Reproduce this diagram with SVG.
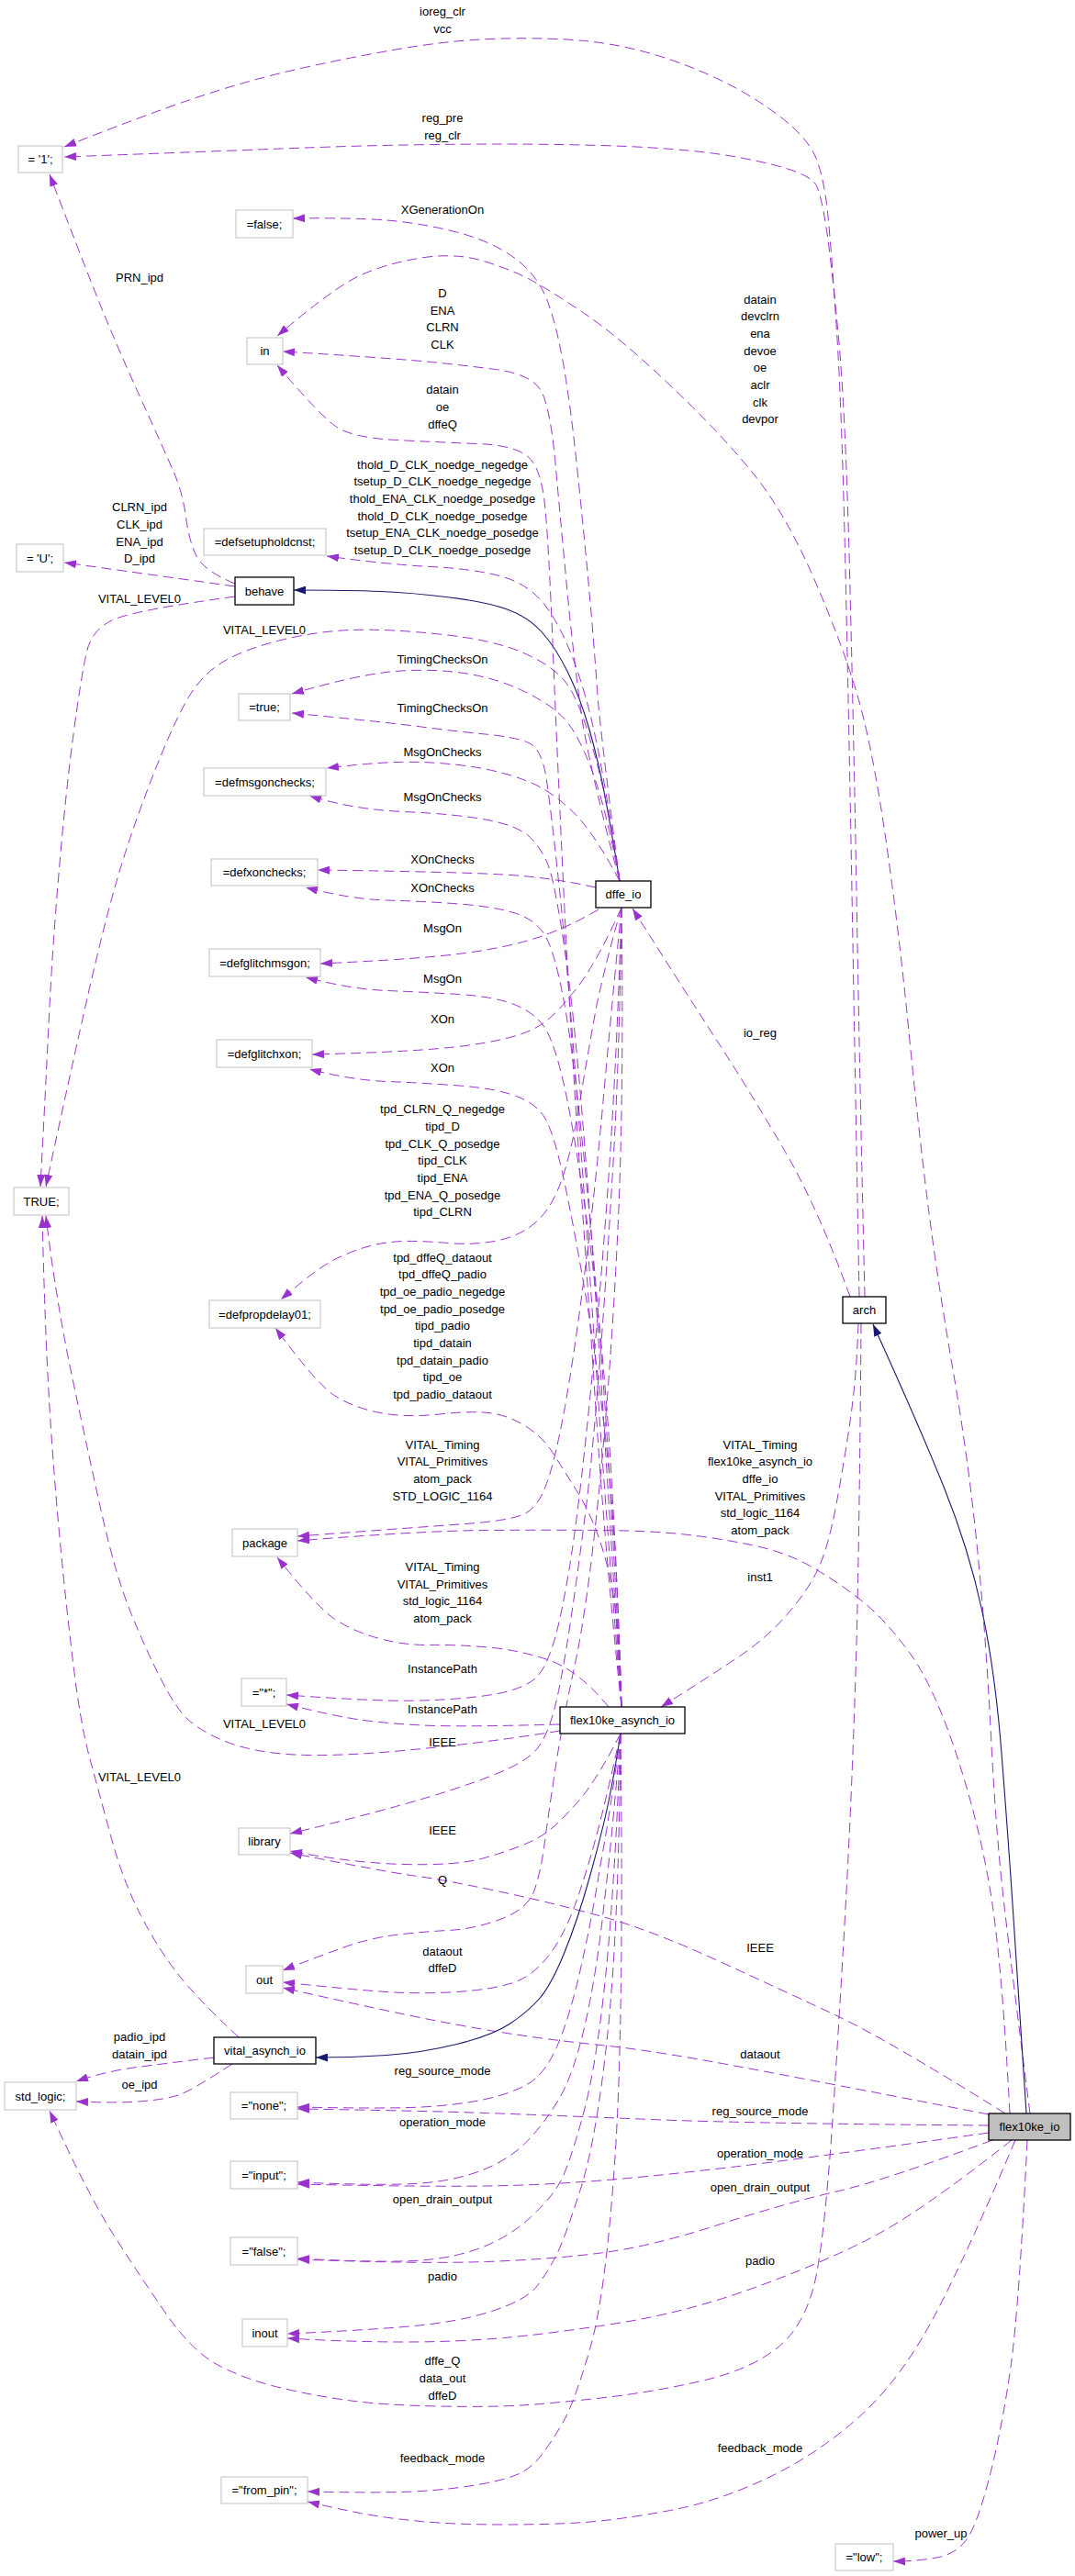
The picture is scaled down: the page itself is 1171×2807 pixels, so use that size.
<svg xmlns="http://www.w3.org/2000/svg" width="1171" height="2807" viewBox="0 0 1171 2807">
<style>
text{font-family:"Liberation Sans",Arial,Helvetica,sans-serif;font-size:13px;fill:#000;text-anchor:middle}
.n rect{fill:#fff;stroke:#bfbfbf;stroke-width:1}
.c rect{fill:#fff;stroke:#000;stroke-width:1.3}
.m rect{fill:#bfbfbf;stroke:#000;stroke-width:1.3}
.u{fill:none;stroke:#9a32cd;stroke-width:1;stroke-dasharray:11,6;marker-end:url(#ap)}
.h{fill:none;stroke:#191970;stroke-width:1.1;marker-end:url(#an)}
</style>
<defs>
<marker id="ap" viewBox="0 0 13 9" refX="13" refY="4.5" markerWidth="13" markerHeight="9" markerUnits="userSpaceOnUse" orient="auto"><path d="M0,0 L13,4.5 L0,9 z" fill="#9a32cd"/></marker>
<marker id="an" viewBox="0 0 13 9" refX="13" refY="4.5" markerWidth="13" markerHeight="9" markerUnits="userSpaceOnUse" orient="auto"><path d="M0,0 L13,4.5 L0,9 z" fill="#191970"/></marker>
</defs>
<rect width="1171" height="2807" fill="#fff"/>
<g id="connectors">
<path class="h" d="M675,960 Q666,905 659,867.5 Q652,830 642,795 Q632,760 618.5,732.5 Q605,705 590,688.5 Q575,672 552.5,664 Q530,656 490,651 Q450,646 415,644.5 Q380,643 320,643"/>
<path class="u" d="M256,636 Q222,622 214,606 Q206,590 202.5,563.5 Q199,537 189.5,515 Q180,493 155,438 Q130,383 113,341.5 Q96,300 54,190"/>
<path class="u" d="M936,1413 Q932,1200 928.5,1000 Q925,800 921,623 Q917,446 911.5,361.5 Q906,277 902,236 Q898,195 889,172.5 Q880,150 849,126.5 Q818,103 782,86 Q746,69 709.5,58.5 Q673,48 636.5,44.5 Q600,41 548.5,42 Q497,43 440,52.5 Q383,62 325.5,75 Q268,88 210.5,107.5 Q153,127 70,160"/>
<path class="u" d="M942,1413 Q937,1200 933.5,1000 Q930,800 925.5,623 Q921,446 913,363 Q905,280 900,247.5 Q895,215 889.5,202.5 Q884,190 842,179.5 Q800,169 754.5,164.5 Q709,160 654.5,158.5 Q600,157 548.5,157 Q497,157 440,158 Q383,159 306.5,162 Q230,165 70,171"/>
<path class="u" d="M256,639 L70,613"/>
<path class="u" d="M256,650 Q153,664 126.5,674 Q100,684 94,712 Q88,740 80,800 Q72,860 64.5,946.5 Q57,1033 53,1116.5 Q49,1200 44,1293"/>
<path class="u" d="M675,960 Q660,860 644,810 Q630,760 615,742 Q600,724 568,710.5 Q536,697 478.5,691 Q421,685 382.5,686.5 Q344,688 306,697.5 Q268,707 245,720 Q222,733 206.5,758 Q191,783 168,841.5 Q145,900 130,950 Q115,1000 96,1083.5 Q77,1167 50,1293"/>
<path class="u" d="M260,2220 Q214,2177 193,2150 Q172,2123 153,2086.5 Q134,2050 120.5,2000 Q107,1950 97.5,1915 Q88,1880 80,1815 Q72,1750 65,1675 Q58,1600 53.5,1525 Q49,1450 46,1325"/>
<path class="u" d="M610,1886 Q555,1895 497.5,1901.5 Q440,1908 402,1910.5 Q364,1913 335,1912.5 Q306,1912 281,1907.5 Q256,1903 235,1893 Q214,1883 202.5,1871.5 Q191,1860 175.5,1830 Q160,1800 143,1758.5 Q126,1717 111,1650 Q96,1583 78.5,1500 Q61,1417 50,1325"/>
<path class="u" d="M675,960 Q658,830 651.5,765 Q647,700 641.5,640 Q636,580 629,513 Q622,446 614.5,401.5 Q607,357 596.5,328.5 Q586,300 561,281.5 Q536,263 497.5,253 Q459,243 421,240 Q383,237 319,238"/>
<path class="u" d="M1122,2303 Q1103,2154 1094,2077 Q1085,2000 1079.5,1891.5 Q1074,1783 1064.5,1687 Q1055,1591 1038.5,1495.5 Q1022,1400 1011.5,1318 Q1001,1236 990,1124 Q979,1012 964.5,912 Q950,812 933.5,756 Q917,700 886,629 Q855,558 818.5,513.5 Q782,469 727.5,417.5 Q673,366 636.5,341.5 Q600,317 580,306 Q560,295 528.5,285 Q497,275 459,281 Q421,287 392.5,300 Q364,313 302,366"/>
<path class="u" d="M675,960 Q648,860 635,790 Q625,720 617.5,640 Q610,560 605,505 Q600,450 591,429 Q582,408 539.5,402.5 Q497,397 459,393.5 Q421,390 308,383"/>
<path class="u" d="M677,1860 Q660,1700 650,1550 Q640,1400 630,1250 Q620,1100 613,950 Q606,800 602,700 Q598,600 594,555 Q590,510 575,497.5 Q560,485 520,483.5 Q480,482 431.5,479.5 Q383,477 365.5,464.5 Q348,452 302,398"/>
<path class="u" d="M675,960 Q662,870 651,815 Q640,760 625,720 Q610,680 592.5,658 Q575,636 546,628 Q517,620 469,617.5 Q421,615 356,606"/>
<path class="u" d="M675,960 Q660,880 645,840 Q630,800 615,783.5 Q600,767 568,752 Q536,737 497.5,732.5 Q459,728 421,732.5 Q383,737 318,756"/>
<path class="u" d="M677,1860 Q660,1650 650,1500 Q640,1350 629,1200 Q618,1050 609,965 Q600,880 595,847.5 Q590,815 575,809 Q560,803 528.5,800 Q497,797 459,792 Q421,787 318,777"/>
<path class="u" d="M675,960 Q643,900 620,881 Q600,862 577.5,852.5 Q555,843 526,837.5 Q497,832 459,830.5 Q421,829 356,837"/>
<path class="u" d="M677,1860 Q664,1650 654.5,1500 Q645,1350 635,1225 Q625,1100 614.5,1030 Q604,960 597,942.5 Q590,925 577.5,912.5 Q565,900 531,893.5 Q497,887 440,884.5 Q383,882 337,867"/>
<path class="u" d="M649,967 Q600,956 548.5,953 Q497,950 346,948"/>
<path class="u" d="M677,1860 Q667,1650 658.5,1525 Q650,1400 637.5,1275 Q625,1150 615,1095 Q605,1040 595,1021.5 Q585,1003 562.5,995.5 Q540,988 500,985 Q460,982 421.5,981 Q383,980 333,967"/>
<path class="u" d="M652,991 Q620,1010 587.5,1021 Q555,1032 507,1038.5 Q459,1045 349,1050"/>
<path class="u" d="M677,1860 Q670,1650 661,1535 Q652,1420 638.5,1325 Q625,1230 615,1185 Q605,1140 595,1122.5 Q585,1105 562.5,1095.5 Q540,1086 500,1083.5 Q460,1081 421.5,1079.5 Q383,1078 333,1065"/>
<path class="u" d="M677,989 Q645,1060 620,1086.5 Q600,1113 577.5,1123 Q555,1133 507,1139.5 Q459,1146 340,1149"/>
<path class="u" d="M677,1860 Q672,1680 661,1580 Q650,1480 636,1400 Q622,1320 612.5,1277.5 Q603,1235 594,1219 Q585,1203 562.5,1194.5 Q540,1186 500,1183 Q460,1180 421.5,1178.5 Q383,1177 337,1165"/>
<path class="u" d="M677,989 Q662,1040 650,1095 Q640,1150 631,1204 Q622,1258 611,1288 Q600,1318 583,1332.5 Q566,1347 541,1352 Q516,1357 487.5,1354.5 Q459,1352 440,1352.5 Q421,1353 402,1358 Q383,1363 363.5,1373 Q344,1383 306,1416"/>
<path class="u" d="M677,1860 Q675,1760 662.5,1710 Q650,1660 630,1627.5 Q610,1595 600,1580 Q590,1565 572.5,1554 Q555,1543 536,1540 Q517,1537 478.5,1541 Q440,1545 411.5,1539 Q383,1533 363.5,1520 Q344,1507 300,1447"/>
<path class="u" d="M677,989 Q666,1100 657,1200 Q648,1300 636.5,1390 Q625,1480 615,1535 Q605,1590 595.5,1616.5 Q586,1643 570.5,1650 Q555,1657 507,1660.5 Q459,1664 324,1674"/>
<path class="u" d="M1100,2303 Q1092,2150 1081,2075 Q1070,2000 1044.5,1920 Q1019,1840 991.5,1802 Q964,1764 937,1743 Q910,1722 882.5,1706.5 Q855,1691 818.5,1683.5 Q782,1676 745.5,1672 Q709,1668 654.5,1667.5 Q600,1667 529.5,1667.5 Q459,1668 324,1679"/>
<path class="u" d="M663,1860 Q630,1820 598,1809 Q566,1798 531.5,1795 Q497,1792 468.5,1792.5 Q440,1793 411.5,1785 Q383,1777 363.5,1763.5 Q344,1750 302,1697"/>
<path class="u" d="M677,989 Q672,1150 663.5,1275 Q655,1400 642.5,1525 Q630,1650 620,1710 Q610,1770 601.5,1795 Q593,1820 583.5,1828.5 Q574,1837 555,1842.5 Q536,1848 497.5,1851 Q459,1854 421,1853 Q383,1852 312,1847"/>
<path class="u" d="M610,1879 Q500,1882 460.5,1880 Q421,1878 392.5,1874 Q364,1870 312,1857"/>
<path class="u" d="M677,989 Q675,1150 667.5,1275 Q660,1400 652.5,1495 Q645,1590 637.5,1650 Q630,1710 621,1770 Q612,1830 604.5,1860 Q597,1890 585.5,1905 Q574,1920 535.5,1935 Q497,1950 440,1966 Q383,1982 316,1998"/>
<path class="u" d="M676,1889 Q645,1950 620,1973.5 Q600,1997 577.5,2007 Q555,2017 526,2025 Q497,2033 440,2031.5 Q383,2030 316,2017"/>
<path class="u" d="M1095,2303 Q964,2221 909.5,2195.5 Q855,2170 782,2136.5 Q709,2103 654.5,2088 Q600,2073 541,2060.5 Q482,2048 451.5,2044 Q421,2040 316,2019"/>
<path class="u" d="M677,989 Q680,1200 672.5,1350 Q665,1500 652.5,1625 Q640,1750 626,1815 Q612,1880 604.5,1930 Q597,1980 593,2010 Q589,2040 582,2060 Q575,2080 546,2091 Q517,2102 488,2103.5 Q459,2105 430.5,2108.5 Q402,2112 373,2122.5 Q344,2133 308,2147"/>
<path class="u" d="M676,1889 Q652,2000 635,2050 Q620,2100 601,2126.5 Q582,2153 559,2160.5 Q536,2168 497.5,2170.5 Q459,2173 421,2170.5 Q383,2168 308,2160"/>
<path class="u" d="M1077,2304 Q891,2268 800,2251 Q709,2234 654.5,2228.5 Q600,2223 549,2215 Q498,2207 440.5,2195 Q383,2183 308,2166"/>
<path class="h" d="M676,1889 Q668,1940 661.5,1970 Q655,2000 642,2046.5 Q629,2093 614.5,2128.5 Q600,2164 587,2178.5 Q574,2193 555,2205.5 Q536,2218 497.5,2227.5 Q459,2237 421,2239.5 Q383,2242 344,2242"/>
<path class="u" d="M233,2242 Q184,2248 149.5,2252.5 Q115,2257 83,2268"/>
<path class="u" d="M253,2249 Q210,2277 197,2282 Q184,2287 157,2289.5 Q130,2292 83,2290"/>
<path class="u" d="M938,1442 Q936,1700 932,1825 Q928,1950 922.5,2052 Q917,2154 908.5,2287 Q900,2420 890,2475 Q880,2530 849.5,2556 Q819,2582 764,2594.5 Q709,2607 654.5,2613 Q600,2619 568,2621 Q536,2623 478.5,2622 Q421,2621 382.5,2616 Q344,2611 306,2602 Q268,2593 239,2578 Q210,2563 181.5,2522 Q153,2481 124.5,2436.5 Q96,2392 54,2300"/>
<path class="u" d="M676,1889 Q664,1980 653.5,2035 Q645,2090 632.5,2145 Q620,2200 606.5,2230.5 Q593,2261 574,2271.5 Q555,2282 526,2288 Q497,2294 459,2296 Q421,2298 324,2296"/>
<path class="u" d="M1077,2316 Q818,2314 709,2309.5 Q600,2305 529.5,2302.5 Q459,2300 324,2298"/>
<path class="u" d="M676,1889 Q667,2000 658,2075 Q650,2150 637.5,2205 Q625,2260 609,2287 Q593,2314 574,2333.5 Q555,2353 526,2364.5 Q497,2376 459,2379 Q421,2382 324,2378"/>
<path class="u" d="M1077,2324 Q928,2345 837,2356.5 Q746,2368 673,2374.5 Q600,2381 529.5,2382 Q459,2383 324,2380"/>
<path class="u" d="M676,1889 Q670,2050 660,2150 Q650,2250 635,2305 Q620,2360 610,2378 Q600,2396 577.5,2416.5 Q555,2437 526,2448.5 Q497,2460 459,2463 Q421,2466 324,2461"/>
<path class="u" d="M1081,2332 Q964,2376 909.5,2388.5 Q855,2401 782,2424.5 Q709,2448 654.5,2455 Q600,2462 529.5,2464.5 Q459,2467 324,2462"/>
<path class="u" d="M676,1889 Q674,2100 662,2215 Q650,2330 632.5,2385 Q615,2440 606,2457.5 Q597,2475 585.5,2490.5 Q574,2506 535.5,2518.5 Q497,2531 440,2535.5 Q383,2540 313,2543"/>
<path class="u" d="M1102,2332 Q1001,2412 946,2440 Q891,2468 818.5,2494 Q746,2520 673,2531.5 Q600,2543 548.5,2547.5 Q497,2552 440,2552 Q383,2552 313,2548"/>
<path class="u" d="M676,1889 Q680,2200 670,2350 Q660,2500 642.5,2560 Q625,2620 612.5,2641 Q600,2662 590,2675 Q580,2688 567.5,2694.5 Q555,2701 526,2706.5 Q497,2712 459,2714.5 Q421,2717 335,2715"/>
<path class="u" d="M1106,2332 Q1055,2453 1018.5,2522.5 Q982,2592 936.5,2633 Q891,2674 836.5,2700 Q782,2726 727.5,2736 Q673,2746 636.5,2748.5 Q600,2751 548.5,2751 Q497,2751 459,2747.5 Q421,2744 392.5,2738.5 Q364,2733 335,2726"/>
<path class="u" d="M1119,2332 Q1110,2515 1101,2579 Q1092,2643 1079,2694.5 Q1066,2746 1055,2764 Q1044,2782 1022.5,2786.5 Q1001,2791 973,2791"/>
<path class="u" d="M926,1413 Q891,1316 854.5,1253.5 Q818,1191 782,1135.5 Q746,1080 689,990"/>
<path class="u" d="M935,1442 Q933,1500 926.5,1545.5 Q920,1591 911,1639 Q902,1687 891,1710 Q880,1733 858.5,1758 Q837,1783 809.5,1802 Q782,1821 720,1860"/>
<path class="h" d="M1118,2303 Q1108,2150 1103,2075 Q1098,2000 1091,1910.5 Q1084,1821 1069.5,1754 Q1055,1687 1028,1620 Q1001,1553 951,1443"/>
<g id="edge-labels">
<text x="482" y="17">ioreg_clr</text><text x="482" y="36">vcc</text>
<text x="482" y="133">reg_pre</text><text x="482" y="152">reg_clr</text>
<text x="482" y="233">XGenerationOn</text>
<text x="152" y="307">PRN_ipd</text>
<text x="482" y="324">D</text><text x="482" y="343">ENA</text><text x="482" y="361">CLRN</text><text x="482" y="380">CLK</text>
<text x="482" y="429">datain</text><text x="482" y="448">oe</text><text x="482" y="467">dffeQ</text>
<text x="482" y="511">thold_D_CLK_noedge_negedge</text><text x="482" y="529">tsetup_D_CLK_noedge_negedge</text><text x="482" y="548">thold_ENA_CLK_noedge_posedge</text><text x="482" y="567">thold_D_CLK_noedge_posedge</text><text x="482" y="585">tsetup_ENA_CLK_noedge_posedge</text><text x="482" y="604">tsetup_D_CLK_noedge_posedge</text>
<text x="152" y="557">CLRN_ipd</text><text x="152" y="576">CLK_ipd</text><text x="152" y="595">ENA_ipd</text><text x="152" y="613">D_ipd</text>
<text x="152" y="657">VITAL_LEVEL0</text>
<text x="288" y="691">VITAL_LEVEL0</text>
<text x="482" y="723">TimingChecksOn</text><text x="482" y="776">TimingChecksOn</text>
<text x="482" y="824">MsgOnChecks</text><text x="482" y="873">MsgOnChecks</text>
<text x="482" y="941">XOnChecks</text><text x="482" y="972">XOnChecks</text>
<text x="482" y="1016">MsgOn</text><text x="482" y="1071">MsgOn</text>
<text x="482" y="1115">XOn</text><text x="482" y="1168">XOn</text>
<text x="482" y="1213">tpd_CLRN_Q_negedge</text><text x="482" y="1232">tipd_D</text><text x="482" y="1251">tpd_CLK_Q_posedge</text><text x="482" y="1269">tipd_CLK</text><text x="482" y="1288">tipd_ENA</text><text x="482" y="1307">tpd_ENA_Q_posedge</text><text x="482" y="1325">tipd_CLRN</text>
<text x="482" y="1375">tpd_dffeQ_dataout</text><text x="482" y="1393">tpd_dffeQ_padio</text><text x="482" y="1412">tpd_oe_padio_negedge</text><text x="482" y="1431">tpd_oe_padio_posedge</text><text x="482" y="1449">tipd_padio</text><text x="482" y="1468">tipd_datain</text><text x="482" y="1487">tpd_datain_padio</text><text x="482" y="1505">tipd_oe</text><text x="482" y="1524">tpd_padio_dataout</text>
<text x="482" y="1579">VITAL_Timing</text><text x="482" y="1597">VITAL_Primitives</text><text x="482" y="1616">atom_pack</text><text x="482" y="1635">STD_LOGIC_1164</text>
<text x="482" y="1712">VITAL_Timing</text><text x="482" y="1731">VITAL_Primitives</text><text x="482" y="1749">std_logic_1164</text><text x="482" y="1768">atom_pack</text>
<text x="482" y="1823">InstancePath</text><text x="482" y="1867">InstancePath</text>
<text x="288" y="1883">VITAL_LEVEL0</text>
<text x="482" y="1903">IEEE</text>
<text x="152" y="1941">VITAL_LEVEL0</text>
<text x="482" y="1999">IEEE</text>
<text x="482" y="2053">Q</text>
<text x="482" y="2131">dataout</text><text x="482" y="2149">dffeD</text>
<text x="152" y="2224">padio_ipd</text><text x="152" y="2243">datain_ipd</text>
<text x="482" y="2261">reg_source_mode</text>
<text x="152" y="2276">oe_ipd</text>
<text x="482" y="2317">operation_mode</text>
<text x="482" y="2401">open_drain_output</text>
<text x="482" y="2485">padio</text>
<text x="482" y="2577">dffe_Q</text><text x="482" y="2596">data_out</text><text x="482" y="2615">dffeD</text>
<text x="482" y="2683">feedback_mode</text>
<text x="828" y="331">datain</text><text x="828" y="349">devclrn</text><text x="828" y="368">ena</text><text x="828" y="387">devoe</text><text x="828" y="405">oe</text><text x="828" y="424">aclr</text><text x="828" y="443">clk</text><text x="828" y="461">devpor</text>
<text x="828" y="1130">io_reg</text>
<text x="828" y="1579">VITAL_Timing</text><text x="828" y="1597">flex10ke_asynch_io</text><text x="828" y="1616">dffe_io</text><text x="828" y="1635">VITAL_Primitives</text><text x="828" y="1653">std_logic_1164</text><text x="828" y="1672">atom_pack</text>
<text x="828" y="1723">inst1</text>
<text x="828" y="2127">IEEE</text>
<text x="828" y="2243">dataout</text>
<text x="828" y="2305">reg_source_mode</text>
<text x="828" y="2351">operation_mode</text>
<text x="828" y="2388">open_drain_output</text>
<text x="828" y="2468">padio</text>
<text x="828" y="2672">feedback_mode</text>
<text x="1025" y="2765">power_up</text>
</g>
</g>
<g id="node-one" class="n"><rect x="20" y="159" width="48" height="29"/><text x="44" y="178">= '1';</text></g>
<g id="node-false" class="n"><rect x="257" y="229" width="62" height="30"/><text x="288" y="248.5">=false;</text></g>
<g id="node-in" class="n"><rect x="269" y="368" width="39" height="29"/><text x="288.5" y="387">in</text></g>
<g id="node-U" class="n"><rect x="18" y="593" width="51" height="30"/><text x="43.5" y="612.5">= 'U';</text></g>
<g id="node-setup" class="n"><rect x="222" y="576" width="133" height="29"/><text x="288.5" y="595">=defsetupholdcnst;</text></g>
<g id="node-behave" class="c"><rect x="256" y="629" width="64" height="30"/><text x="288" y="648.5">behave</text></g>
<g id="node-true" class="n"><rect x="260" y="756" width="56" height="29"/><text x="288" y="775">=true;</text></g>
<g id="node-msgonchecks" class="n"><rect x="222" y="837" width="133" height="30"/><text x="288.5" y="856.5">=defmsgonchecks;</text></g>
<g id="node-xonchecks" class="n"><rect x="230" y="936" width="116" height="29"/><text x="288" y="955">=defxonchecks;</text></g>
<g id="node-glitchmsgon" class="n"><rect x="228" y="1034" width="121" height="30"/><text x="288.5" y="1053.5">=defglitchmsgon;</text></g>
<g id="node-glitchxon" class="n"><rect x="236" y="1133" width="104" height="30"/><text x="288" y="1152.5">=defglitchxon;</text></g>
<g id="node-TRUE" class="n"><rect x="15" y="1294" width="60" height="30"/><text x="45" y="1313.5">TRUE;</text></g>
<g id="node-propdelay" class="n"><rect x="228" y="1417" width="121" height="30"/><text x="288.5" y="1436.5">=defpropdelay01;</text></g>
<g id="node-package" class="n"><rect x="253" y="1666" width="71" height="30"/><text x="288.5" y="1685.5">package</text></g>
<g id="node-star" class="n"><rect x="263" y="1829" width="49" height="30"/><text x="287.5" y="1848.5">="*";</text></g>
<g id="node-library" class="n"><rect x="260" y="1992" width="56" height="29"/><text x="288" y="2011">library</text></g>
<g id="node-out" class="n"><rect x="268" y="2142" width="40" height="30"/><text x="288" y="2161.5">out</text></g>
<g id="node-vital" class="c"><rect x="233" y="2220" width="111" height="29"/><text x="288.5" y="2239">vital_asynch_io</text></g>
<g id="node-stdlogic" class="n"><rect x="5" y="2269" width="78" height="30"/><text x="44" y="2288.5">std_logic;</text></g>
<g id="node-none" class="n"><rect x="251" y="2280" width="73" height="29"/><text x="287.5" y="2299">="none";</text></g>
<g id="node-input" class="n"><rect x="251" y="2355" width="73" height="30"/><text x="287.5" y="2374.5">="input";</text></g>
<g id="node-sfalse" class="n"><rect x="251" y="2438" width="73" height="30"/><text x="287.5" y="2457.5">="false";</text></g>
<g id="node-inout" class="n"><rect x="264" y="2527" width="49" height="30"/><text x="288.5" y="2546.5">inout</text></g>
<g id="node-frompin" class="n"><rect x="241" y="2699" width="94" height="29"/><text x="288" y="2718">="from_pin";</text></g>
<g id="node-low" class="n"><rect x="910" y="2772" width="63" height="29"/><text x="941.5" y="2791">="low";</text></g>
<g id="node-dffe_io" class="c"><rect x="649" y="960" width="60" height="29"/><text x="679" y="979">dffe_io</text></g>
<g id="node-arch" class="c"><rect x="918" y="1413" width="47" height="29"/><text x="941.5" y="1432">arch</text></g>
<g id="node-flex10ke_asynch_io" class="c"><rect x="610" y="1860" width="136" height="29"/><text x="678" y="1879">flex10ke_asynch_io</text></g>
<g id="node-flex10ke_io" class="m"><rect x="1077" y="2303" width="89" height="29"/><text x="1121.5" y="2322">flex10ke_io</text></g>
</svg>
